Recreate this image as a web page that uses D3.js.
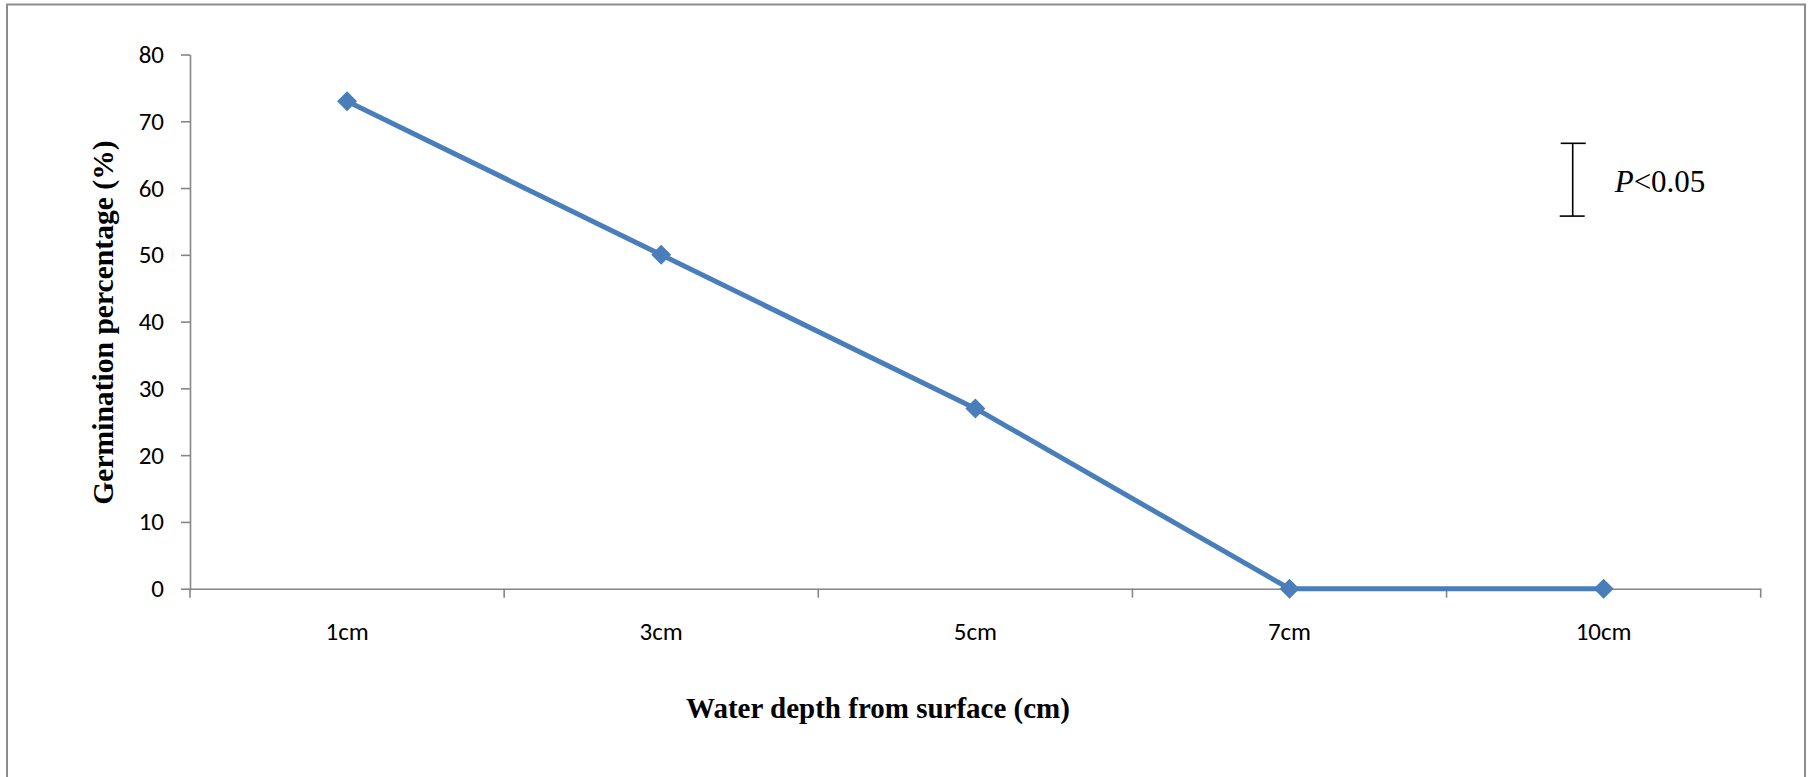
<!DOCTYPE html>
<html>
<head>
<meta charset="utf-8">
<script src="https://cdn.jsdelivr.net/npm/d3@7"></script>
<style>
  html, body { margin: 0; padding: 0; background: #fff; }
  svg { display: block; }
</style>
</head>
<body>
<svg id="chart" width="1813" height="777"></svg>
<script>
// Germination percentage by water depth
const categories = ["1cm", "3cm", "5cm", "7cm", "10cm"];
const germination = [73, 50, 27, 0, 0];
const yTicks = [0, 10, 20, 30, 40, 50, 60, 70, 80];
// Significance bar (P<0.05) spans these values on the y scale
const sigBar = [55.8, 66.7];
const sigLabelItalic = "P";
const sigLabelRest = "<0.05";
const xTitle = "Water depth from surface (cm)";
const yTitle = "Germination percentage (%)";

const svg = d3.select("#chart");
const W = 1813, H = 777;
const plot = { left: 190, right: 1760.7, top: 54.5, bottom: 588.7 };

const axisColor = "#868686";
const lineColor = "#4a7ebb";
const tickFont = "Carlito, Calibri, Lato, sans-serif";
const titleFont = "'Liberation Serif', 'Times New Roman', serif";

// outer frame
svg.append("rect")
  .attr("x", 7).attr("y", 4.5)
  .attr("width", 1798).attr("height", H + 20)
  .attr("fill", "#fff")
  .attr("stroke", "#8c8c8c")
  .attr("stroke-width", 2);

const x = d3.scaleBand().domain(categories).range([plot.left, plot.right]).padding(0);
const y = d3.scaleLinear().domain([0, 80]).range([plot.bottom, plot.top]);

// y axis
const yAxis = svg.append("g")
  .attr("transform", `translate(${plot.left},0)`)
  .call(d3.axisLeft(y).tickValues(yTicks).tickSize(9).tickPadding(17).tickSizeOuter(0));
yAxis.select(".domain").attr("stroke", axisColor).attr("stroke-width", 1.6);
yAxis.selectAll(".tick line").attr("stroke", axisColor).attr("stroke-width", 1.6);
yAxis.selectAll(".tick text")
  .attr("font-family", tickFont).attr("font-size", 25).attr("fill", "#000");

// x axis
const xAxis = svg.append("g")
  .attr("transform", `translate(0,${plot.bottom})`)
  .call(d3.axisBottom(x).tickSize(0).tickPadding(0).tickSizeOuter(0));
xAxis.select(".domain").attr("stroke", axisColor).attr("stroke-width", 1.6);
xAxis.selectAll(".tick text")
  .attr("font-family", tickFont).attr("font-size", 25).attr("fill", "#000")
  .attr("y", 42.5).attr("dy", "0.35em");

// tick marks at category boundaries
const boundaries = categories.map(c => x(c)).concat([x(categories[categories.length - 1]) + x.bandwidth()]);
xAxis.selectAll("line.boundary")
  .data(boundaries)
  .join("line")
  .attr("class", "boundary")
  .attr("x1", d => d).attr("x2", d => d)
  .attr("y1", 0).attr("y2", 9)
  .attr("stroke", axisColor).attr("stroke-width", 1.6);

// series line
const pts = categories.map((c, i) => ({ c, v: germination[i] }));
const line = d3.line()
  .x(d => x(d.c) + x.bandwidth() / 2)
  .y(d => y(d.v));
svg.append("path")
  .datum(pts)
  .attr("d", line)
  .attr("fill", "none")
  .attr("stroke", lineColor)
  .attr("stroke-width", 5)
  .attr("stroke-linejoin", "round");

// diamond markers
const diamond = d3.symbol().type(d3.symbolSquare).size(200);
svg.selectAll("path.marker")
  .data(pts)
  .join("path")
  .attr("class", "marker")
  .attr("d", diamond)
  .attr("transform", d => `translate(${x(d.c) + x.bandwidth() / 2},${y(d.v)}) rotate(45)`)
  .attr("fill", lineColor);

// significance bar
const sigX = plot.right - 188;
const sig = svg.append("g").attr("stroke", "#000").attr("stroke-width", 1.6);
sig.append("line").attr("x1", sigX).attr("x2", sigX).attr("y1", y(sigBar[0])).attr("y2", y(sigBar[1]));
sig.append("line").attr("x1", sigX - 12).attr("x2", sigX + 13).attr("y1", y(sigBar[1])).attr("y2", y(sigBar[1]));
sig.append("line").attr("x1", sigX - 13).attr("x2", sigX + 12).attr("y1", y(sigBar[0])).attr("y2", y(sigBar[0]));

const sigText = svg.append("text")
  .attr("x", sigX + 42)
  .attr("y", (y(sigBar[0]) + y(sigBar[1])) / 2 + 12)
  .attr("font-family", titleFont)
  .attr("font-size", 31)
  .attr("fill", "#000");
sigText.append("tspan").attr("font-style", "italic").text(sigLabelItalic);
sigText.append("tspan").text(sigLabelRest);

// axis titles
svg.append("text")
  .attr("x", plot.left + 688)
  .attr("y", 718)
  .attr("text-anchor", "middle")
  .attr("font-family", titleFont)
  .attr("font-weight", "bold")
  .attr("font-size", 29)
  .attr("fill", "#000")
  .text(xTitle);

svg.append("text")
  .attr("transform", `translate(113,${(plot.top + plot.bottom) / 2 + 1}) rotate(-90)`)
  .attr("text-anchor", "middle")
  .attr("font-family", titleFont)
  .attr("font-weight", "bold")
  .attr("font-size", 29.6)
  .attr("fill", "#000")
  .text(yTitle);
</script>
</body>
</html>
